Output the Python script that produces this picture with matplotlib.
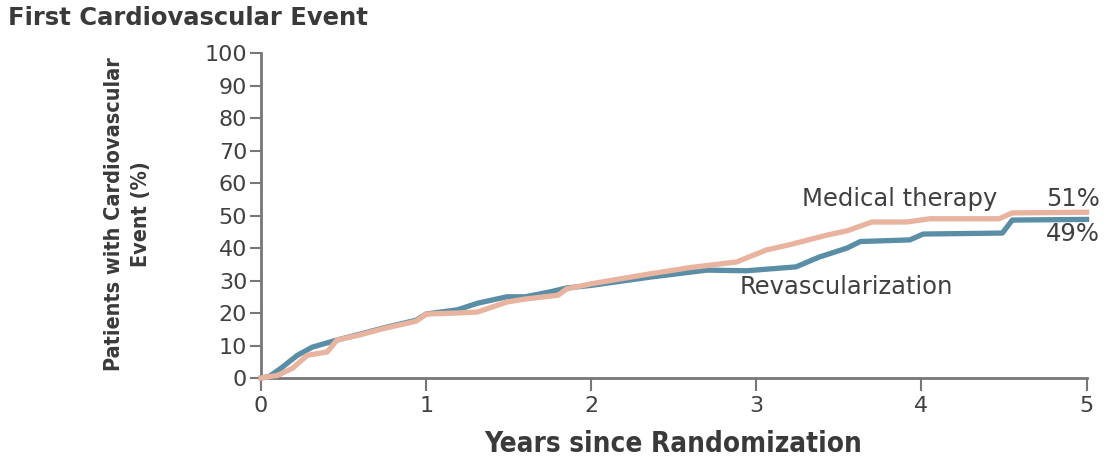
import matplotlib
matplotlib.use("Agg")
import matplotlib.pyplot as plt

# DATOS
rev_years = [0, 0.05, 0.12, 0.22, 0.31, 0.46, 0.6, 0.74, 0.94, 1.0, 1.19, 1.31, 1.49, 1.6,
             1.75, 1.85, 2.0, 2.35, 2.7, 2.94, 3.24, 3.38, 3.55, 3.63, 3.93, 4.01, 4.49, 4.55, 5.0]
rev_pct = [0, 0.5, 3, 7, 9.5, 11.7, 13.5, 15.4, 17.8, 19.7, 21, 23, 25, 25,
           26.5, 27.7, 28.5, 31, 33.2, 33, 34.2, 37.2, 40, 42, 42.5, 44.3, 44.6, 48.6, 48.8]

med_years = [0, 0.1, 0.19, 0.28, 0.4, 0.46, 0.6, 0.74, 0.94, 1.0, 1.19, 1.31, 1.49, 1.6, 1.8,
             1.85, 2.0, 2.35, 2.6, 2.88, 3.06, 3.2, 3.43, 3.55, 3.7, 3.91, 4.05, 4.47, 4.55, 5.0]
med_pct = [0, 0.8, 3, 7, 8, 11.7, 13.3, 15.2, 17.5, 19.7, 20, 20.3, 23.4, 24.3, 25.5,
           27.4, 29, 32, 34, 35.7, 39.4, 41, 44, 45.3, 48, 48, 49, 49, 50.8, 51]

x_ticks = [0, 1, 2, 3, 4, 5]
y_ticks = list(range(0, 101, 10))

blue = "#5a8ea7"
salmon = "#e8b39f"
gray = "#777777"
txt = "#404040"

fig = plt.figure(figsize=(11.11, 4.61), dpi=100)
ax = fig.add_axes([0.235, 0.180, 0.743, 0.705])

ax.plot(rev_years, rev_pct, color=blue, lw=3.8, solid_joinstyle="round", clip_on=False, zorder=3)
ax.plot(med_years, med_pct, color=salmon, lw=3.8, solid_joinstyle="round", clip_on=False, zorder=4)

ax.set_xlim(0, 5)
ax.set_ylim(0, 100)
ax.set_xticks(x_ticks)
ax.set_yticks(y_ticks)

for s in ["top", "right"]:
    ax.spines[s].set_visible(False)
for s in ["left", "bottom"]:
    ax.spines[s].set_color(gray)
    ax.spines[s].set_linewidth(2)

ax.tick_params(axis="y", direction="out", length=8, width=1.5, color=gray,
               labelsize=16, labelcolor=txt, pad=2)
ax.tick_params(axis="x", direction="out", length=9, width=1.5, color=gray,
               labelsize=16, labelcolor=txt, pad=4)

# ETIQUETAS
fig.text(0.007, 0.962, "First Cardiovascular Event", fontsize=17.5, fontweight="bold",
         color="#3a3a3a", ha="left", va="center")
fig.text(0.115, 0.535, "Patients with Cardiovascular\nEvent (%)", rotation=90,
         fontsize=15.5, fontweight="semibold", fontstretch="condensed", color="#3a3a3a",
         ha="center", va="center", linespacing=1.45)
fig.text(0.606, 0.037, "Years since Randomization", fontsize=20, fontweight="bold",
         fontstretch="condensed", color="#3a3a3a", ha="center", va="center")

ax.text(4.46, 55, "Medical therapy", fontsize=17.5, color=txt, ha="right", va="center")
ax.text(5.08, 55, "51%", fontsize=17.5, color=txt, ha="right", va="center", clip_on=False)
ax.text(5.08, 44.3, "49%", fontsize=17.5, color=txt, ha="right", va="center", clip_on=False)
ax.text(2.9, 28, "Revascularization", fontsize=17.5, color=txt, ha="left", va="center")

fig.savefig("out.png", dpi=100)
